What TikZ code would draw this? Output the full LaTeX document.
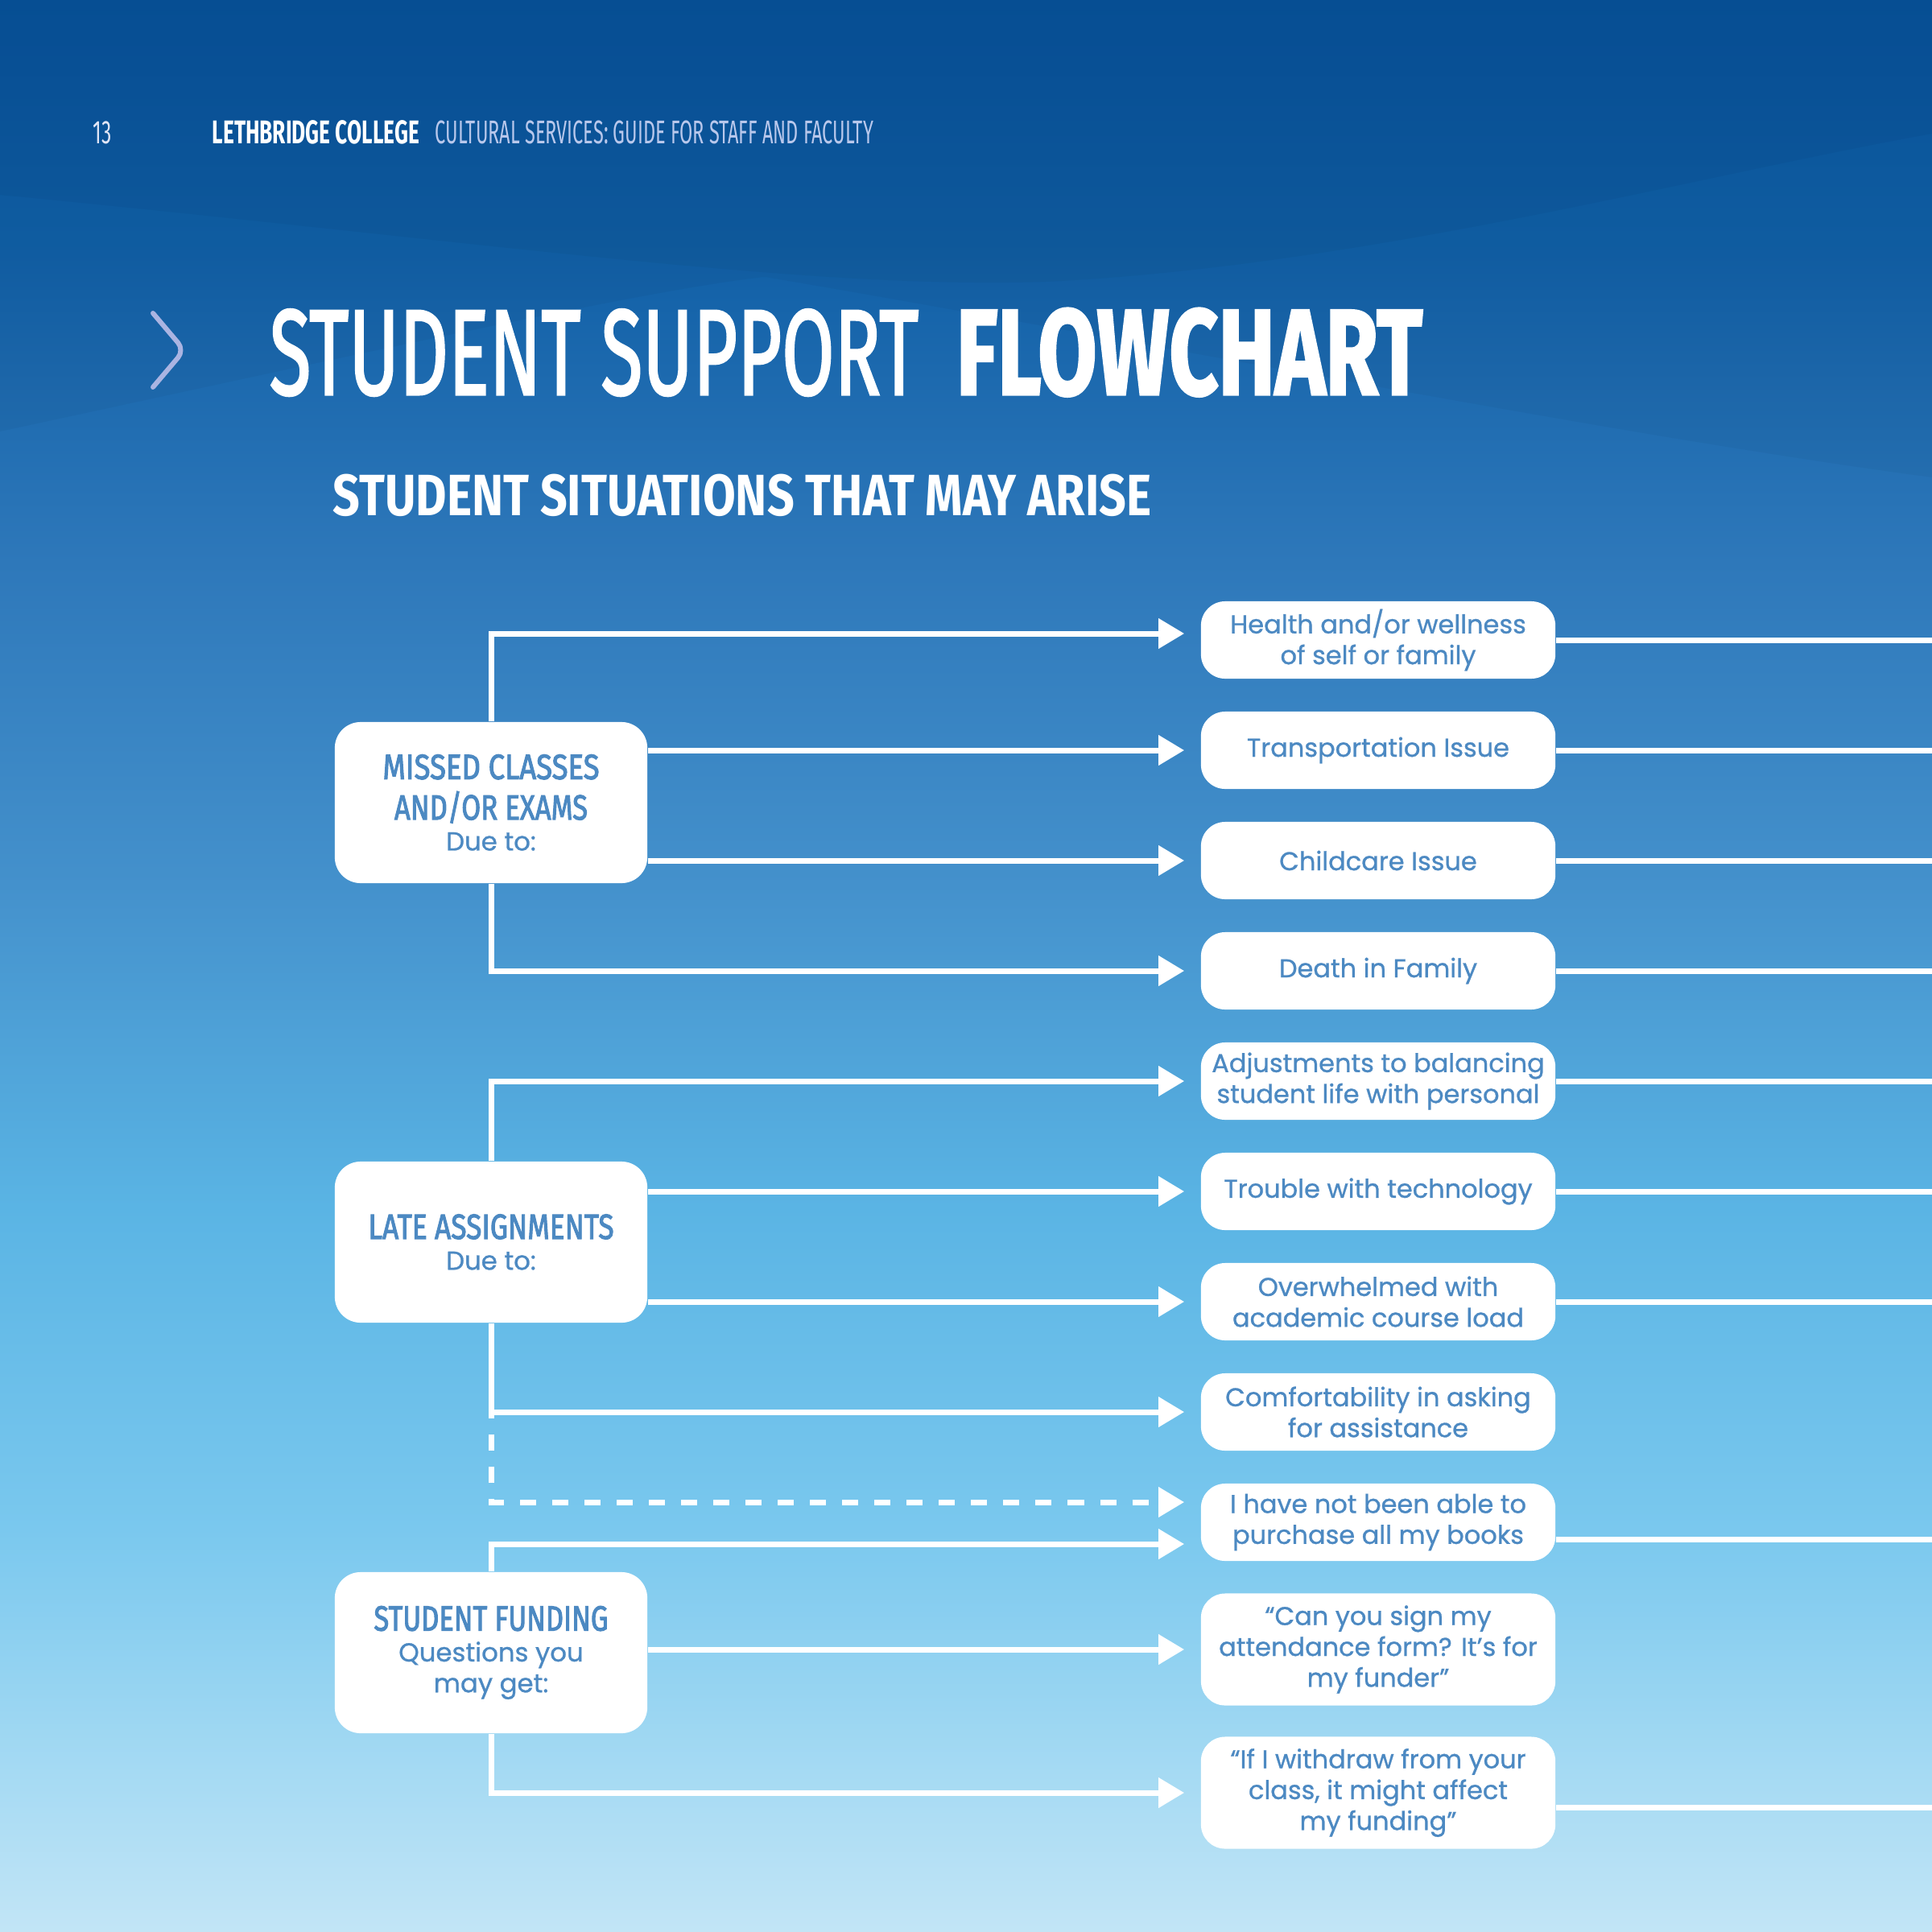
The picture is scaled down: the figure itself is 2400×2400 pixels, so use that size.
\documentclass[tikz,border=0pt]{standalone}
\usepackage{fontspec}
\usepackage{graphicx}
\usetikzlibrary{arrows.meta,calc}
\newfontfamily\bodyf{Poppins}[FakeBold=0.8]
\newfontfamily\headf{Fira Sans}
\newfontfamily\medf{Fira Sans}[FakeBold=2]
\newfontfamily\semif{Fira Sans}[FakeBold=2.6]
\newfontfamily\heavyf{Fira Sans}[BoldFeatures={FakeBold=2}]
\definecolor{bgA}{RGB}{8,84,158}
\definecolor{bgB}{RGB}{16,95,166}
\definecolor{bgC}{RGB}{46,120,186}
\definecolor{bgD}{RGB}{68,145,204}
\definecolor{bgE}{RGB}{90,180,228}
\definecolor{bgF}{RGB}{122,200,238}
\definecolor{bgG}{RGB}{165,218,243}
\definecolor{bgH}{RGB}{194,229,246}
\definecolor{boxtext}{RGB}{76,137,194}
\definecolor{chevcol}{RGB}{170,180,226}
\definecolor{hdlav}{RGB}{185,200,236}
\definecolor{numcol}{RGB}{225,230,246}
\pgfdeclareverticalshading{bgshade}{100bp}{color(0bp)=(bgH); color(25bp)=(bgH); color(29.17bp)=(bgG); color(35.42bp)=(bgF); color(43.75bp)=(bgE); color(52.08bp)=(bgD); color(60.42bp)=(bgC); color(68.75bp)=(bgB); color(75bp)=(bgA); color(100bp)=(bgA)}
\newcommand\sq[3]{\resizebox{#1}{\height}{\fontsize{#2}{#2}\selectfont #3}}
\begin{document}
\begin{tikzpicture}[x=0.01cm,y=-0.01cm,
  conn/.style={draw=white, line width=0.07cm},
  arr/.style={conn, -{Triangle[length=0.32cm,width=0.36cm]}, shorten >=0.2cm},
  dashconn/.style={arr, dash pattern=on 0.2cm off 0.2cm, dash phase=0.12cm},
  leftbox/.style={fill=white, rounded corners=0.32cm, minimum width=3.88cm, minimum height=2cm, inner sep=0pt, align=center, text=boxtext, font=\bodyf\fontsize{9.2}{10.9}\selectfont},
  rightbox/.style={fill=white, rounded corners=0.3cm, minimum width=4.4cm, minimum height=0.96cm, inner sep=0pt, align=center, text=boxtext, font=\bodyf\fontsize{9.1}{10.9}\selectfont},
  tallbox/.style={rightbox, minimum height=1.39cm},
  hdtext/.style={inner sep=0pt, anchor=base west},
  chev/.style={draw=chevcol, line width=0.06cm, line cap=round, line join=round, rounded corners=0.12cm}
]
\useasboundingbox (0,0) rectangle (2400,2400);
\shade[shading=bgshade] (0,0) rectangle (2400,2400);
% subtle background waves
\fill[black, opacity=0.035] (0,0) -- (0,242) .. controls (600,300) and (1000,360) .. (1300,350) .. controls (1700,330) and (2100,220) .. (2400,166) -- (2400,0) -- cycle;
\fill[black, opacity=0.03] (0,0) -- (0,536) .. controls (400,450) and (800,360) .. (950,344) .. controls (1400,420) and (2000,540) .. (2400,593) -- (2400,0) -- cycle;

% header
\node[hdtext, text=numcol] (pnum) at (115,179) {\sq{0.23cm}{11.6pt}{\headf 13}};
\node[hdtext, text=white] (college) at (263,179) {\sq{2.57cm}{11.6pt}{\headf\bfseries LETHBRIDGE COLLEGE}};
\node[hdtext, text=hdlav] (guide) at (540,179) {\sq{5.44cm}{11.6pt}{\headf CULTURAL SERVICES: GUIDE FOR STAFF AND FACULTY}};

% title
\draw[chev] (190,389) -- (229,435) -- (190,481);
\node[hdtext, text=white] (title1) at (334,490) {\sq{8.06cm}{42.9pt}{\medf STUDENT SUPPORT}};
\node[hdtext, text=white] (title2) at (1187,490) {\sq{5.79cm}{42.9pt}{\heavyf\bfseries FLOWCHART}};
\node[hdtext, text=white] (subtitle) at (413,640) {\sq{10.16cm}{20.6pt}{\headf\bfseries STUDENT SITUATIONS THAT MAY ARISE}};

% left boxes
\node[leftbox] (L1) at (610,997) {\sq{2.69cm}{12.4pt}{\semif MISSED CLASSES}\\[0.12cm]\sq{2.40cm}{12.4pt}{\semif AND/OR EXAMS}\\Due to:};
\node[leftbox] (L2) at (610,1543) {\sq{3.05cm}{12.4pt}{\semif LATE ASSIGNMENTS}\\Due to:};
\node[leftbox] (L3) at (610,2053) {\sq{2.91cm}{12.4pt}{\semif STUDENT FUNDING}\\Questions you\\may get:};

% right boxes
\node[rightbox] (R1) at (1712,795) {Health and/or wellness\\of self or family};
\node[rightbox] (R2) at (1712,932) {Transportation Issue};
\node[rightbox] (R3) at (1712,1069) {Childcare Issue};
\node[rightbox] (R4) at (1712,1206) {Death in Family};
\node[rightbox] (R5) at (1712,1343) {Adjustments to balancing\\student life with personal};
\node[rightbox] (R6) at (1712,1480) {Trouble with technology};
\node[rightbox] (R7) at (1712,1617) {Overwhelmed with\\academic course load};
\node[rightbox] (R8) at (1712,1754) {Comfortability in asking\\for assistance};
\node[rightbox] (R9) at (1712,1891) {I have not been able to\\purchase all my books};
\node[tallbox] (R10) at (1712,2049) {“Can you sign my\\attendance form? It’s for\\my funder”};
\node[tallbox] (R11) at (1712,2227) {“If I withdraw from your\\class, it might affect\\my funding”};

\coordinate (edge) at (2400,0);

% connectors: missed classes
\draw[arr] (L1.north) |- ([yshift=0.08cm]R1.west);
\draw[arr] (L1.east |- R2.west) -- (R2.west);
\draw[arr] (L1.east |- R3.west) -- (R3.west);
\draw[arr] (L1.south) |- (R4.west);
% late assignments
\draw[arr] (L2.north) |- (R5.west);
\draw[arr] (L2.east |- R6.west) -- (R6.west);
\draw[arr] (L2.east |- R7.west) -- (R7.west);
\draw[arr] (L2.south) |- (R8.west);
\draw[dashconn] (L2.south |- R8.west) |- ([yshift=0.25cm]R9.west);
% student funding
\draw[arr] (L3.north) |- ([yshift=-0.27cm]R9.west);
\draw[arr] (L3.east |- R10.west) -- (R10.west);
\draw[arr] (L3.south) |- (R11.west);

% exits to the right
\foreach \r in {R1,R2,R3,R4,R5,R6,R7}{
  \draw[conn] (\r.east) -- (\r.east -| edge);
}
\draw[conn] ([yshift=-0.21cm]R9.east) -- ([yshift=-0.21cm]R9.east -| edge);
\draw[conn] ([yshift=-0.18cm]R11.east) -- ([yshift=-0.18cm]R11.east -| edge);
\end{tikzpicture}
\end{document}
